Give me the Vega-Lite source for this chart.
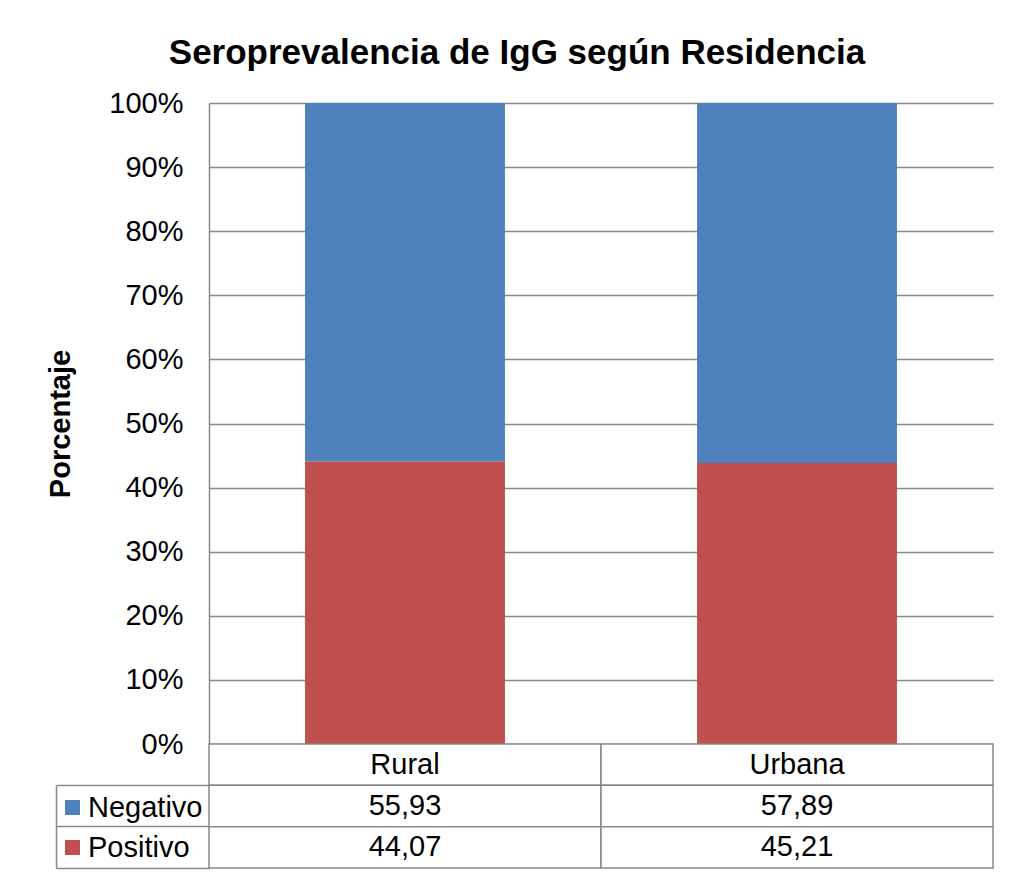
{
  "$schema": "https://vega.github.io/schema/vega-lite/v6.json",
  "background": "white",
  "padding": {"left": 46, "top": 36, "right": 5, "bottom": 5},
  "datasets": {
    "datos": [
      {"Residencia": "Rural", "Resultado": "Negativo", "valor": 55.93},
      {"Residencia": "Rural", "Resultado": "Positivo", "valor": 44.07},
      {"Residencia": "Urbana", "Resultado": "Negativo", "valor": 57.89},
      {"Residencia": "Urbana", "Resultado": "Positivo", "valor": 45.21}
    ]
  },
  "title": {
    "text": "Seroprevalencia de IgG según Residencia",
    "font": "Liberation Sans",
    "fontSize": 35,
    "fontWeight": "bold",
    "color": "black",
    "anchor": "middle",
    "frame": "group",
    "dx": -84,
    "offset": 18
  },
  "vconcat": [
    {
      "width": 784,
      "height": 641,
      "data": {"name": "datos"},
      "mark": {"type": "bar"},
      "encoding": {
        "x": {
          "field": "Residencia",
          "type": "nominal",
          "scale": {"paddingInner": 0.49, "paddingOuter": 0.245},
          "axis": null
        },
        "y": {
          "field": "valor",
          "type": "quantitative",
          "stack": "normalize",
          "scale": {"domain": [0, 1]},
          "axis": {
            "values": [0, 0.1, 0.2, 0.3, 0.4, 0.5, 0.6, 0.7, 0.8, 0.9, 1],
            "format": ".0%",
            "title": "Porcentaje",
            "titleFont": "Liberation Sans",
            "titleFontSize": 29,
            "titleFontWeight": "bold",
            "titleColor": "black",
            "titlePadding": 33,
            "labelFont": "Liberation Sans",
            "labelFontSize": 29,
            "labelColor": "black",
            "labelPadding": 26,
            "ticks": false,
            "grid": true,
            "gridColor": "#898989",
            "gridWidth": 1.5,
            "domain": true,
            "domainColor": "#898989",
            "domainWidth": 1.5
          }
        },
        "color": {
          "field": "Resultado",
          "type": "nominal",
          "scale": {"domain": ["Negativo", "Positivo"], "range": ["#4F81BD", "#C0504D"]},
          "legend": {
            "orient": "none",
            "legendX": -151,
            "legendY": 690,
            "title": null,
            "symbolType": "square",
            "symbolSize": 225,
            "symbolStrokeWidth": 0,
            "labelFont": "Liberation Sans",
            "labelFontSize": 29,
            "labelColor": "black",
            "labelOffset": 1,
            "rowPadding": 10,
            "padding": 0
          }
        },
        "order": {"field": "Resultado", "sort": "descending"}
      }
    },
    {
      "width": 784,
      "height": 124,
      "data": {"name": "datos"},
      "encoding": {
        "x": {
          "field": "Residencia",
          "type": "nominal",
          "scale": {"paddingInner": 0, "paddingOuter": 0},
          "axis": null
        }
      },
      "layer": [
        {
          "transform": [{"aggregate": [{"op": "count", "as": "n"}], "groupby": ["Residencia"]}],
          "mark": {"type": "rect", "fill": "white", "stroke": "#898989", "strokeWidth": 1.5},
          "encoding": {
            "y": {
              "datum": "Residencia",
              "type": "nominal",
              "scale": {"domain": ["Residencia", "Negativo", "Positivo"], "paddingInner": 0, "paddingOuter": 0},
              "axis": {
                "orient": "left",
                "bandPosition": 1,
                "ticks": true,
                "tickSize": 153,
                "tickColor": "#898989",
                "tickWidth": 1.5,
                "labels": false,
                "domain": false,
                "grid": false,
                "title": null
              }
            }
          }
        },
        {
          "mark": {"type": "rect", "fill": "white", "stroke": "#898989", "strokeWidth": 1.5},
          "encoding": {
            "y": {
              "field": "Resultado",
              "type": "nominal",
              "axis": {
                "orient": "left",
                "offset": 153,
                "ticks": false,
                "labels": false,
                "domain": true,
                "domainColor": "#898989",
                "domainWidth": 1.5,
                "domainDash": [0, 41.33, 82.67],
                "grid": false,
                "title": null
              }
            }
          }
        },
        {
          "transform": [{"aggregate": [{"op": "count", "as": "n"}], "groupby": ["Residencia"]}],
          "mark": {"type": "text", "font": "Liberation Sans", "fontSize": 29, "color": "black", "baseline": "middle"},
          "encoding": {
            "y": {"datum": "Residencia", "type": "nominal", "axis": null},
            "text": {"field": "Residencia", "type": "nominal"}
          }
        },
        {
          "mark": {"type": "text", "font": "Liberation Sans", "fontSize": 29, "color": "black", "baseline": "middle"},
          "encoding": {
            "y": {"field": "Resultado", "type": "nominal", "axis": null},
            "text": {"field": "valor", "type": "quantitative", "format": ".2f"}
          }
        }
      ],
      "resolve": {"axis": {"y": "independent"}}
    }
  ],
  "spacing": 0,
  "bounds": "flush",
  "config": {
    "view": {"stroke": null},
    "locale": {
      "number": {"decimal": ",", "thousands": ".", "grouping": [3], "currency": ["", " €"]}
    }
  }
}
